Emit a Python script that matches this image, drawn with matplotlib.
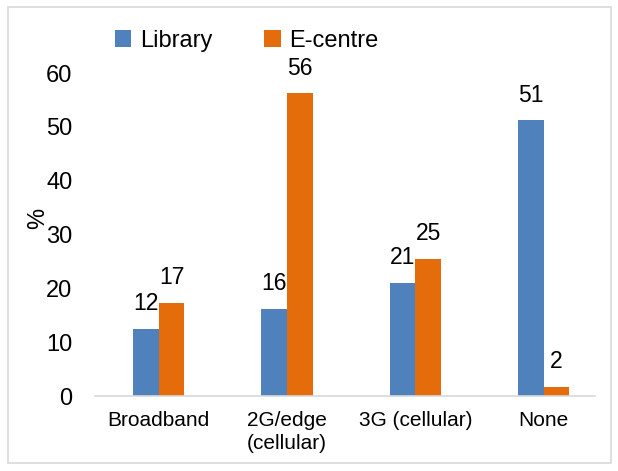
import matplotlib.pyplot as plt
import numpy as np
from matplotlib.patches import Rectangle

categories = ['Broadband', '2G/edge\n(cellular)', '3G (cellular)', 'None']
library = [12.4, 16.2, 21.0, 51.2]
ecentre = [17.3, 56.2, 25.4, 1.7]

plt.rcParams['font.family'] = ['Liberation Sans', 'DejaVu Sans']

fig = plt.figure(figsize=(6.18, 4.71), dpi=100)
ax = fig.add_axes([0.153, 0.159, 0.81, 0.686])

x = np.arange(len(categories))
w = 0.2
b1 = ax.bar(x - w / 2, library, w, color='#4F81BD', label='Library')
b2 = ax.bar(x + w / 2, ecentre, w, color='#E46C0A', label='E-centre')

for bars in (b1, b2):
    for bar in bars:
        h = bar.get_height()
        ax.annotate(f'{h:.0f}', (bar.get_x() + bar.get_width() / 2, h),
                    xytext=(0, 10), textcoords='offset points',
                    ha='center', va='bottom', fontsize=16.5)

ax.set_ylim(0, 60)
ax.set_xlim(-0.5, 3.4)
ax.set_yticks(range(0, 61, 10))
ax.set_xticks(x)
ax.set_xticklabels(categories, fontsize=15, linespacing=1.25)
ax.tick_params(axis='y', labelsize=17, length=0, pad=16)
ax.tick_params(axis='x', length=0, pad=11)
ax.set_ylabel('%', fontsize=17)
ax.yaxis.set_label_coords(-0.09, 0.5 + 16 / 323)
for s in ('top', 'right', 'left'):
    ax.spines[s].set_visible(False)
ax.spines['bottom'].set_color('#D9D9D9')
ax.spines['bottom'].set_linewidth(1.2)

fig.legend(handles=[b1, b2], loc='center left', bbox_to_anchor=(0.186, 1 - 41 / 471),
           ncol=2, frameon=False, fontsize=17, borderpad=0, borderaxespad=0,
           handlelength=0.7, handleheight=0.7, handletextpad=0.35, columnspacing=2.2)

fig.patches.append(Rectangle((0.013, 0.017), 0.975, 0.968, transform=fig.transFigure,
                             fill=False, edgecolor='#D9D9D9', linewidth=1.2))

fig.savefig('out.png', dpi=100)
